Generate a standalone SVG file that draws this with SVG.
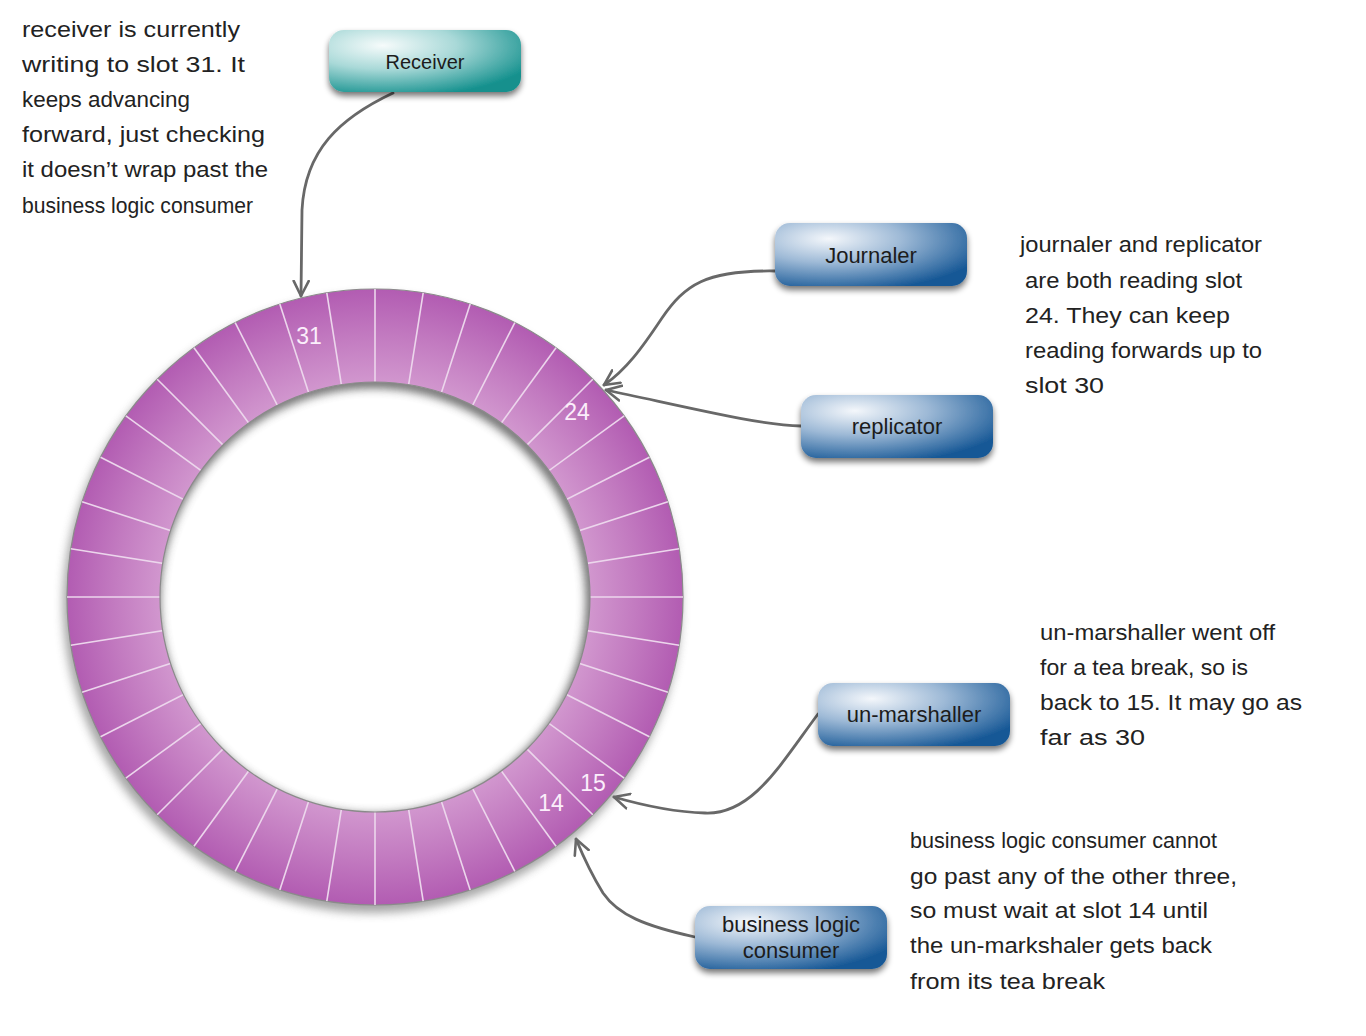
<svg xmlns="http://www.w3.org/2000/svg" width="1366" height="1036" viewBox="0 0 1366 1036">
<defs>
  <radialGradient id="ringGrad" gradientUnits="userSpaceOnUse" cx="375" cy="597" r="308">
    <stop offset="0.69" stop-color="#d298cf"/>
    <stop offset="0.85" stop-color="#c27ac0"/>
    <stop offset="1" stop-color="#b25cb2"/>
  </radialGradient>
  <radialGradient id="tealGrad" cx="0.28" cy="0.25" r="0.85">
    <stop offset="0" stop-color="#f6fbfb"/>
    <stop offset="0.45" stop-color="#a9d9d8"/>
    <stop offset="1" stop-color="#13908d"/>
  </radialGradient>
  <radialGradient id="blueGrad" cx="0.28" cy="0.25" r="0.85">
    <stop offset="0" stop-color="#f4f7fb"/>
    <stop offset="0.45" stop-color="#9db9d6"/>
    <stop offset="1" stop-color="#175896"/>
  </radialGradient>
  <filter id="shadow" x="-20%" y="-30%" width="140%" height="170%">
    <feGaussianBlur in="SourceAlpha" stdDeviation="3"/>
    <feOffset dy="4" result="b"/>
    <feComponentTransfer><feFuncA type="linear" slope="0.55"/></feComponentTransfer>
    <feMerge><feMergeNode/><feMergeNode in="SourceGraphic"/></feMerge>
  </filter>
  <filter id="blur6" x="-20%" y="-20%" width="140%" height="140%">
    <feGaussianBlur stdDeviation="5"/>
  </filter>
  <clipPath id="holeClip"><circle cx="375" cy="597" r="215"/></clipPath>
  <marker id="arrow" viewBox="0 0 18 18" refX="16" refY="9" markerWidth="18" markerHeight="18" markerUnits="userSpaceOnUse" orient="auto">
    <path d="M1,1.5 L16,9 L1,16.5" fill="none" stroke="#686868" stroke-width="2.6" stroke-linejoin="round" stroke-linecap="round"/>
  </marker>
  <style>
    .box { stroke: none; }
    .lbl { font-family: "Liberation Sans", Arial, sans-serif; font-size: 22px; fill: #1c1c1c; text-anchor: middle; }
    .note { font-family: "Liberation Sans", Arial, sans-serif; font-size: 22px; fill: #222; }
    .slot { stroke: #ecd6ec; stroke-width: 1.6; }
    .num { font-family: "Liberation Sans", Arial, sans-serif; font-size: 23px; fill: #fbeefb; text-anchor: middle; }
    .conn { fill: none; stroke: #686868; stroke-width: 2.8; stroke-linecap: round; }
  </style>
</defs>
<rect width="1366" height="1036" fill="#ffffff"/>

<g id="ring">
  <circle cx="372" cy="604" r="309" fill="#6a6a6a" opacity="0.6" filter="url(#blur6)"/>
  <circle cx="375" cy="597" r="308" fill="url(#ringGrad)" stroke="#8a8a8a" stroke-width="1.2"/>
  <g id="slots">
    <line class="slot" x1="375" y1="289" x2="375" y2="905" transform="rotate(0 375 597)"/>
    <line class="slot" x1="375" y1="289" x2="375" y2="905" transform="rotate(9 375 597)"/>
    <line class="slot" x1="375" y1="289" x2="375" y2="905" transform="rotate(18 375 597)"/>
    <line class="slot" x1="375" y1="289" x2="375" y2="905" transform="rotate(27 375 597)"/>
    <line class="slot" x1="375" y1="289" x2="375" y2="905" transform="rotate(36 375 597)"/>
    <line class="slot" x1="375" y1="289" x2="375" y2="905" transform="rotate(45 375 597)"/>
    <line class="slot" x1="375" y1="289" x2="375" y2="905" transform="rotate(54 375 597)"/>
    <line class="slot" x1="375" y1="289" x2="375" y2="905" transform="rotate(63 375 597)"/>
    <line class="slot" x1="375" y1="289" x2="375" y2="905" transform="rotate(72 375 597)"/>
    <line class="slot" x1="375" y1="289" x2="375" y2="905" transform="rotate(81 375 597)"/>
    <line class="slot" x1="375" y1="289" x2="375" y2="905" transform="rotate(90 375 597)"/>
    <line class="slot" x1="375" y1="289" x2="375" y2="905" transform="rotate(99 375 597)"/>
    <line class="slot" x1="375" y1="289" x2="375" y2="905" transform="rotate(108 375 597)"/>
    <line class="slot" x1="375" y1="289" x2="375" y2="905" transform="rotate(117 375 597)"/>
    <line class="slot" x1="375" y1="289" x2="375" y2="905" transform="rotate(126 375 597)"/>
    <line class="slot" x1="375" y1="289" x2="375" y2="905" transform="rotate(135 375 597)"/>
    <line class="slot" x1="375" y1="289" x2="375" y2="905" transform="rotate(144 375 597)"/>
    <line class="slot" x1="375" y1="289" x2="375" y2="905" transform="rotate(153 375 597)"/>
    <line class="slot" x1="375" y1="289" x2="375" y2="905" transform="rotate(162 375 597)"/>
    <line class="slot" x1="375" y1="289" x2="375" y2="905" transform="rotate(171 375 597)"/>
  </g>
  <circle cx="375" cy="597" r="215" fill="#ffffff"/>
  <g clip-path="url(#holeClip)">
    <circle cx="373" cy="601" r="219" fill="none" stroke="#5a5a5a" stroke-width="12" opacity="0.9" filter="url(#blur6)"/>
  </g>
  <circle cx="375" cy="597" r="215" fill="none" stroke="#8a8a8a" stroke-width="1.2"/>
  <text class="num" x="309" y="344">31</text>
  <text class="num" x="577" y="420">24</text>
  <text class="num" x="593" y="791">15</text>
  <text class="num" x="551" y="811">14</text>
</g>

<g id="connectors">
  <path class="conn" d="M393,93 C340,118 305,150 302,210 L301,296" marker-end="url(#arrow)"/>
  <path class="conn" d="M775,271 C705,270 685,285 662,318 C642,348 626,370 604,385" marker-end="url(#arrow)"/>
  <path class="conn" d="M801,426 C760,425 700,410 606,390" marker-end="url(#arrow)"/>
  <path class="conn" d="M818,714 C780,765 752,815 705,813 C672,812 645,806 614,797" marker-end="url(#arrow)"/>
  <path class="conn" d="M695,937 C645,926 618,915 603,893 C590,872 583,856 576,839" marker-end="url(#arrow)"/>
</g>

<g id="receiver">
  <rect class="box" x="329" y="30" width="192" height="62" rx="15" fill="url(#tealGrad)" filter="url(#shadow)"/>
  <text class="lbl" x="425" y="69" style="font-size:20px">Receiver</text>
</g>
<g id="journaler">
  <rect class="box" x="775" y="223" width="192" height="63" rx="15" fill="url(#blueGrad)" filter="url(#shadow)"/>
  <text class="lbl" x="871" y="263">Journaler</text>
</g>
<g id="replicator">
  <rect class="box" x="801" y="395" width="192" height="63" rx="15" fill="url(#blueGrad)" filter="url(#shadow)"/>
  <text class="lbl" x="897" y="434">replicator</text>
</g>
<g id="unmarshaller">
  <rect class="box" x="818" y="683" width="192" height="63" rx="15" fill="url(#blueGrad)" filter="url(#shadow)"/>
  <text class="lbl" x="914" y="722">un-marshaller</text>
</g>
<g id="business">
  <rect class="box" x="695" y="906" width="192" height="63" rx="15" fill="url(#blueGrad)" filter="url(#shadow)"/>
  <text class="lbl" x="791" y="932">business logic</text>
  <text class="lbl" x="791" y="958">consumer</text>
</g>

<g id="note-receiver">
  <text class="note" x="22" y="37" textLength="218" lengthAdjust="spacingAndGlyphs">receiver is currently</text>
  <text class="note" x="22" y="72" textLength="223" lengthAdjust="spacingAndGlyphs">writing to slot 31. It</text>
  <text class="note" x="22" y="107" textLength="168" lengthAdjust="spacingAndGlyphs">keeps advancing</text>
  <text class="note" x="22" y="142" textLength="243" lengthAdjust="spacingAndGlyphs">forward, just checking</text>
  <text class="note" x="22" y="177" textLength="246" lengthAdjust="spacingAndGlyphs">it doesn’t wrap past the</text>
  <text class="note" x="22" y="213" textLength="231" lengthAdjust="spacingAndGlyphs">business logic consumer</text>
</g>
<g id="note-journaler">
  <text class="note" x="1020" y="252" textLength="242" lengthAdjust="spacingAndGlyphs">journaler and replicator</text>
  <text class="note" x="1025" y="288" textLength="217" lengthAdjust="spacingAndGlyphs">are both reading slot</text>
  <text class="note" x="1025" y="323" textLength="205" lengthAdjust="spacingAndGlyphs">24. They can keep</text>
  <text class="note" x="1025" y="358" textLength="237" lengthAdjust="spacingAndGlyphs">reading forwards up to</text>
  <text class="note" x="1025" y="393" textLength="79" lengthAdjust="spacingAndGlyphs">slot 30</text>
</g>
<g id="note-unmarshaller">
  <text class="note" x="1040" y="640" textLength="235" lengthAdjust="spacingAndGlyphs">un-marshaller went off</text>
  <text class="note" x="1040" y="675" textLength="208" lengthAdjust="spacingAndGlyphs">for a tea break, so is</text>
  <text class="note" x="1040" y="710" textLength="262" lengthAdjust="spacingAndGlyphs">back to 15. It may go as</text>
  <text class="note" x="1040" y="745" textLength="105" lengthAdjust="spacingAndGlyphs">far as 30</text>
</g>
<g id="note-business">
  <text class="note" x="910" y="848" textLength="307" lengthAdjust="spacingAndGlyphs">business logic consumer cannot</text>
  <text class="note" x="910" y="884" textLength="327" lengthAdjust="spacingAndGlyphs">go past any of the other three,</text>
  <text class="note" x="910" y="918" textLength="298" lengthAdjust="spacingAndGlyphs">so must wait at slot 14 until</text>
  <text class="note" x="910" y="953" textLength="302" lengthAdjust="spacingAndGlyphs">the un-markshaler gets back</text>
  <text class="note" x="910" y="989" textLength="195" lengthAdjust="spacingAndGlyphs">from its tea break</text>
</g>
</svg>
